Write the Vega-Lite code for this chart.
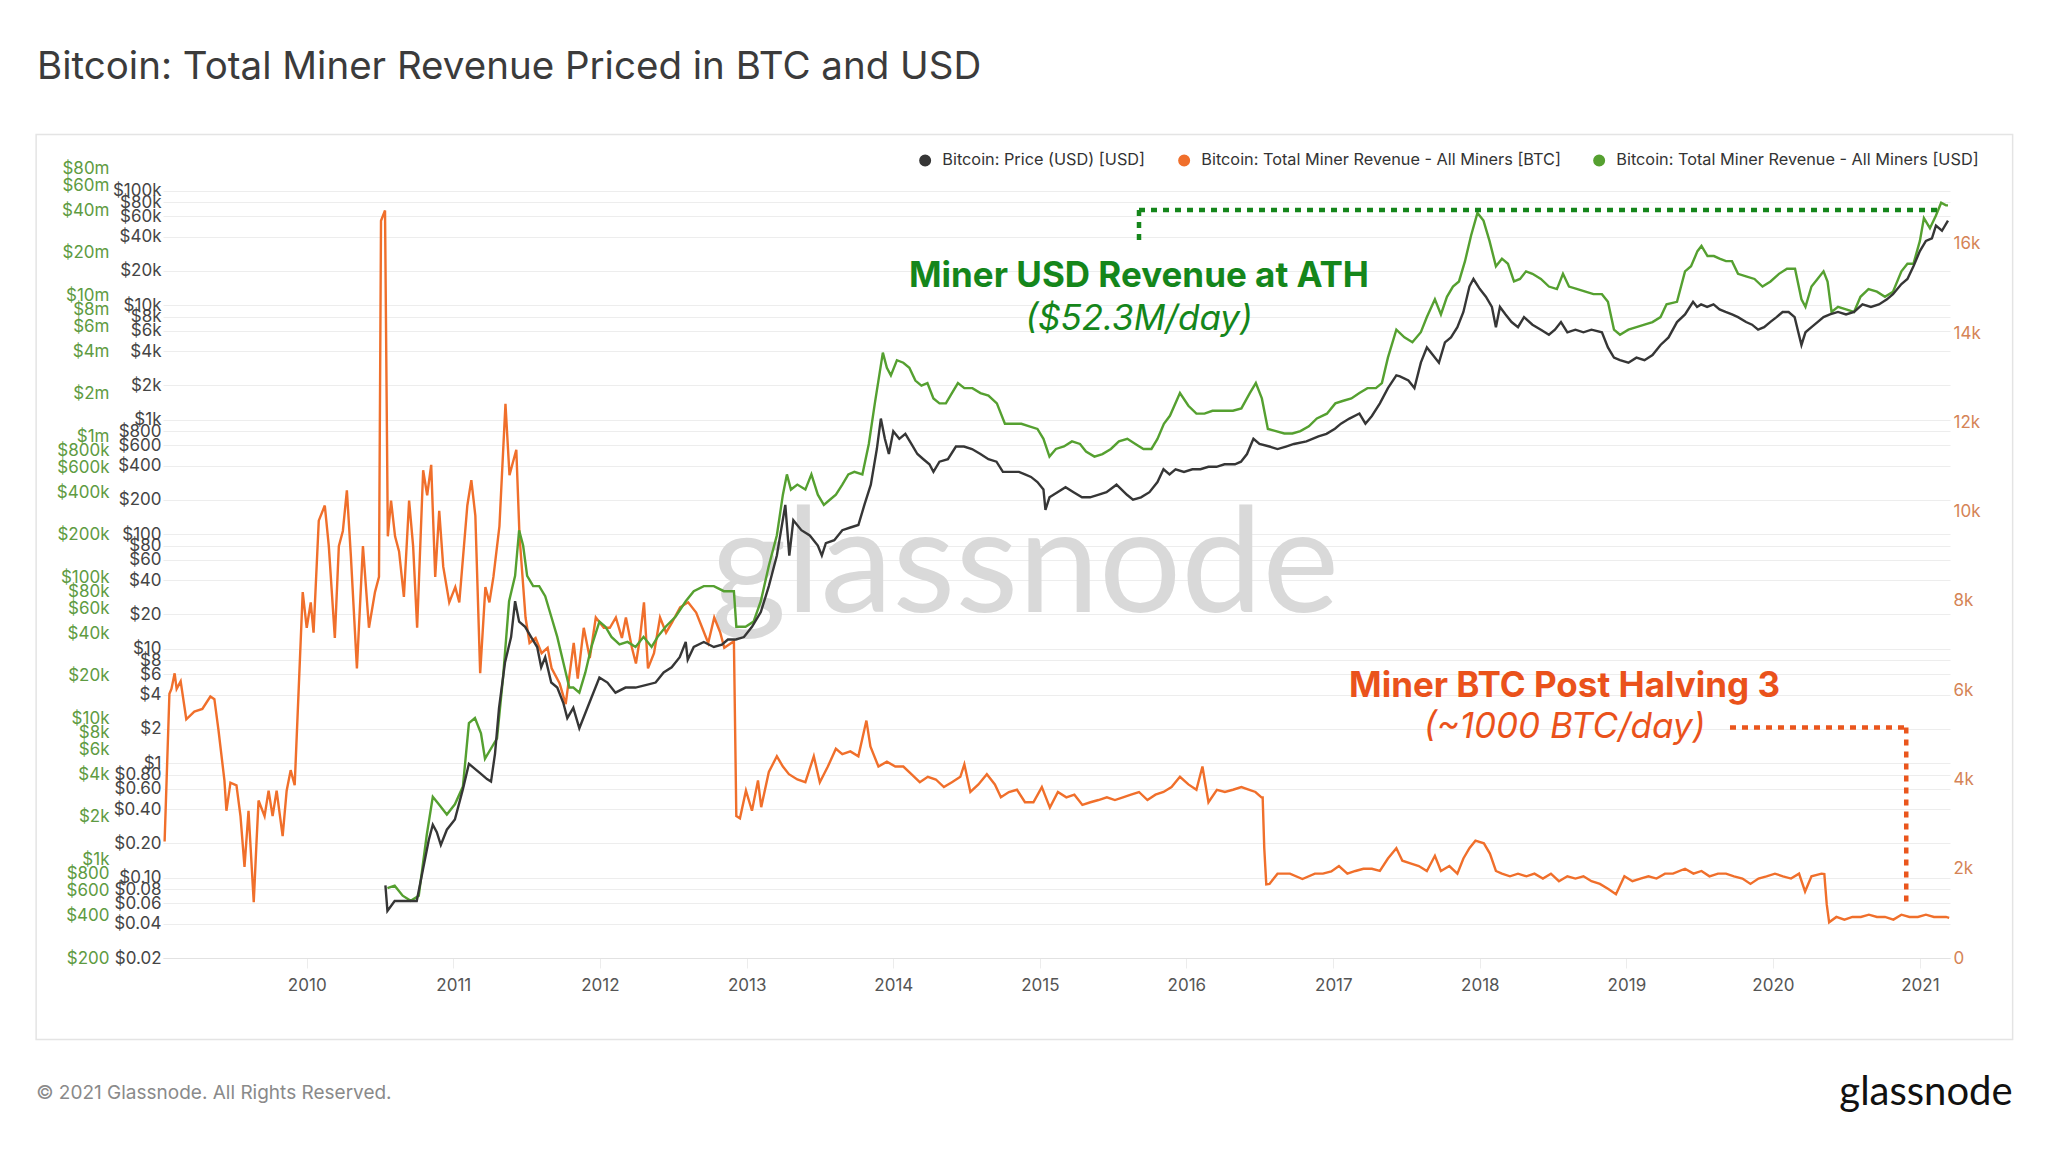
{
  "$schema": "https://vega.github.io/schema/vega-lite/v6.json",
  "width": 1787,
  "height": 795,
  "autosize": {"type": "none"},
  "padding": {"left": 163, "top": 163, "right": 98, "bottom": 192},
  "background": "white",
  "title": {
    "text": "Bitcoin: Total Miner Revenue Priced in BTC and USD",
    "anchor": "start",
    "frame": "group",
    "dx": -126,
    "offset": 16,
    "baseline": "alphabetic",
    "font": "Inter",
    "fontSize": 38.5,
    "fontWeight": "normal",
    "color": "#3b3b3b"
  },
  "config": {
    "view": {"stroke": null},
    "font": "Inter",
    "legend": {
      "orient": "none",
      "legendX": 754,
      "legendY": -11,
      "direction": "horizontal",
      "symbolType": "circle",
      "symbolSize": 110,
      "labelFont": "Inter",
      "labelFontSize": 16.3,
      "labelColor": "#333333",
      "labelLimit": 600,
      "columnPadding": 29,
      "labelOffset": 9
    }
  },
  "datasets": {
    "btc": [
      {"d": "2009-01-12", "v": 2610}, {"d": "2009-01-24", "v": 5920}, {"d": "2009-01-29", "v": 6030}, {"d": "2009-02-06", "v": 6380},
      {"d": "2009-02-11", "v": 6030}, {"d": "2009-02-21", "v": 6200}, {"d": "2009-03-07", "v": 5350}, {"d": "2009-03-27", "v": 5520},
      {"d": "2009-04-16", "v": 5580}, {"d": "2009-05-06", "v": 5860}, {"d": "2009-05-16", "v": 5800}, {"d": "2009-05-26", "v": 5120},
      {"d": "2009-06-10", "v": 3980}, {"d": "2009-06-15", "v": 3300}, {"d": "2009-06-25", "v": 3930}, {"d": "2009-07-10", "v": 3870},
      {"d": "2009-07-20", "v": 3180}, {"d": "2009-07-30", "v": 2040}, {"d": "2009-08-09", "v": 3300}, {"d": "2009-08-22", "v": 1250},
      {"d": "2009-08-29", "v": 2610}, {"d": "2009-09-03", "v": 3530}, {"d": "2009-09-18", "v": 3180}, {"d": "2009-09-28", "v": 3750},
      {"d": "2009-10-08", "v": 3180}, {"d": "2009-10-18", "v": 3750}, {"d": "2009-11-02", "v": 2730}, {"d": "2009-11-12", "v": 3750},
      {"d": "2009-11-22", "v": 4210}, {"d": "2009-12-02", "v": 3870}, {"d": "2009-12-12", "v": 6030}, {"d": "2009-12-22", "v": 8200},
      {"d": "2010-01-01", "v": 7400}, {"d": "2010-01-11", "v": 7970}, {"d": "2010-01-18", "v": 7290}, {"d": "2010-01-31", "v": 9800},
      {"d": "2010-02-15", "v": 10140}, {"d": "2010-02-25", "v": 9230}, {"d": "2010-03-12", "v": 7170}, {"d": "2010-03-22", "v": 9230},
      {"d": "2010-04-01", "v": 9570}, {"d": "2010-04-11", "v": 10480}, {"d": "2010-04-21", "v": 9000}, {"d": "2010-05-06", "v": 6490},
      {"d": "2010-05-21", "v": 9230}, {"d": "2010-06-05", "v": 7400}, {"d": "2010-06-20", "v": 8200}, {"d": "2010-06-30", "v": 8540},
      {"d": "2010-07-05", "v": 16520}, {"d": "2010-07-15", "v": 16750}, {"d": "2010-07-22", "v": 9450}, {"d": "2010-07-30", "v": 10250},
      {"d": "2010-08-09", "v": 9450}, {"d": "2010-08-19", "v": 9110}, {"d": "2010-08-31", "v": 8090}, {"d": "2010-09-13", "v": 10250},
      {"d": "2010-09-23", "v": 9230}, {"d": "2010-10-03", "v": 7400}, {"d": "2010-10-18", "v": 10930}, {"d": "2010-10-28", "v": 10370},
      {"d": "2010-11-07", "v": 11050}, {"d": "2010-11-17", "v": 8540}, {"d": "2010-11-27", "v": 10020}, {"d": "2010-12-07", "v": 8770},
      {"d": "2010-12-22", "v": 7970}, {"d": "2011-01-06", "v": 8310}, {"d": "2011-01-16", "v": 7970}, {"d": "2011-02-05", "v": 10140},
      {"d": "2011-02-15", "v": 10710}, {"d": "2011-02-25", "v": 9910}, {"d": "2011-03-09", "v": 6380}, {"d": "2011-03-22", "v": 8310},
      {"d": "2011-04-01", "v": 7970}, {"d": "2011-04-11", "v": 8540}, {"d": "2011-04-26", "v": 9680}, {"d": "2011-05-11", "v": 12420},
      {"d": "2011-05-21", "v": 10820}, {"d": "2011-06-07", "v": 11390}, {"d": "2011-06-15", "v": 9450}, {"d": "2011-06-30", "v": 7630},
      {"d": "2011-07-10", "v": 7060}, {"d": "2011-07-25", "v": 7170}, {"d": "2011-08-09", "v": 6830}, {"d": "2011-08-24", "v": 6950},
      {"d": "2011-09-03", "v": 6490}, {"d": "2011-09-23", "v": 6150}, {"d": "2011-10-08", "v": 5690}, {"d": "2011-10-18", "v": 6380},
      {"d": "2011-10-28", "v": 7060}, {"d": "2011-11-07", "v": 6260}, {"d": "2011-11-22", "v": 7400}, {"d": "2011-12-07", "v": 6720},
      {"d": "2011-12-22", "v": 7630}, {"d": "2012-01-11", "v": 7400}, {"d": "2012-01-26", "v": 7400}, {"d": "2012-02-10", "v": 7630},
      {"d": "2012-02-25", "v": 7170}, {"d": "2012-03-06", "v": 7630}, {"d": "2012-03-21", "v": 6950}, {"d": "2012-03-31", "v": 6600},
      {"d": "2012-04-10", "v": 7170}, {"d": "2012-04-20", "v": 7970}, {"d": "2012-04-30", "v": 6490}, {"d": "2012-05-15", "v": 6830},
      {"d": "2012-05-30", "v": 7630}, {"d": "2012-06-14", "v": 7290}, {"d": "2012-06-29", "v": 7520}, {"d": "2012-07-19", "v": 7860},
      {"d": "2012-08-08", "v": 7970}, {"d": "2012-08-28", "v": 7740}, {"d": "2012-09-12", "v": 7400}, {"d": "2012-09-27", "v": 7060},
      {"d": "2012-10-12", "v": 7630}, {"d": "2012-10-27", "v": 7290}, {"d": "2012-11-06", "v": 6950}, {"d": "2012-11-30", "v": 7100},
      {"d": "2012-12-06", "v": 3180}, {"d": "2012-12-15", "v": 3130}, {"d": "2012-12-30", "v": 3750}, {"d": "2013-01-14", "v": 3300},
      {"d": "2013-01-29", "v": 3980}, {"d": "2013-02-06", "v": 3380}, {"d": "2013-02-25", "v": 4170}, {"d": "2013-03-17", "v": 4520},
      {"d": "2013-04-01", "v": 4290}, {"d": "2013-04-16", "v": 4120}, {"d": "2013-05-07", "v": 4000}, {"d": "2013-05-27", "v": 3940},
      {"d": "2013-06-17", "v": 4520}, {"d": "2013-07-02", "v": 3940}, {"d": "2013-07-22", "v": 4290}, {"d": "2013-08-11", "v": 4690},
      {"d": "2013-08-27", "v": 4570}, {"d": "2013-09-16", "v": 4630}, {"d": "2013-10-06", "v": 4520}, {"d": "2013-10-26", "v": 5320},
      {"d": "2013-11-05", "v": 4740}, {"d": "2013-11-25", "v": 4290}, {"d": "2013-12-16", "v": 4400}, {"d": "2014-01-06", "v": 4290},
      {"d": "2014-01-26", "v": 4290}, {"d": "2014-02-15", "v": 4120}, {"d": "2014-03-08", "v": 3940}, {"d": "2014-03-28", "v": 4060},
      {"d": "2014-04-17", "v": 4000}, {"d": "2014-05-07", "v": 3830}, {"d": "2014-05-27", "v": 3940}, {"d": "2014-06-17", "v": 4060},
      {"d": "2014-06-27", "v": 4340}, {"d": "2014-07-12", "v": 3720}, {"d": "2014-08-01", "v": 3890}, {"d": "2014-08-22", "v": 4120},
      {"d": "2014-09-11", "v": 3890}, {"d": "2014-09-26", "v": 3600}, {"d": "2014-10-16", "v": 3720}, {"d": "2014-11-05", "v": 3770},
      {"d": "2014-11-25", "v": 3490}, {"d": "2014-12-16", "v": 3490}, {"d": "2015-01-06", "v": 3830}, {"d": "2015-01-26", "v": 3370},
      {"d": "2015-02-15", "v": 3720}, {"d": "2015-03-08", "v": 3600}, {"d": "2015-03-28", "v": 3660}, {"d": "2015-04-17", "v": 3430},
      {"d": "2015-05-07", "v": 3490}, {"d": "2015-05-27", "v": 3540}, {"d": "2015-06-17", "v": 3600}, {"d": "2015-07-07", "v": 3540},
      {"d": "2015-07-27", "v": 3600}, {"d": "2015-08-16", "v": 3660}, {"d": "2015-09-05", "v": 3720}, {"d": "2015-09-26", "v": 3540},
      {"d": "2015-10-16", "v": 3660}, {"d": "2015-11-05", "v": 3720}, {"d": "2015-11-25", "v": 3830}, {"d": "2015-12-16", "v": 4060},
      {"d": "2016-01-06", "v": 3890}, {"d": "2016-01-26", "v": 3770}, {"d": "2016-02-10", "v": 4290}, {"d": "2016-02-25", "v": 3490},
      {"d": "2016-03-17", "v": 3770}, {"d": "2016-04-06", "v": 3720}, {"d": "2016-04-26", "v": 3770}, {"d": "2016-05-17", "v": 3830},
      {"d": "2016-06-06", "v": 3770}, {"d": "2016-06-21", "v": 3720}, {"d": "2016-07-06", "v": 3600}, {"d": "2016-07-09", "v": 3600},
      {"d": "2016-07-13", "v": 2460}, {"d": "2016-07-18", "v": 1650}, {"d": "2016-07-26", "v": 1660}, {"d": "2016-08-15", "v": 1890},
      {"d": "2016-09-15", "v": 1890}, {"d": "2016-10-16", "v": 1770}, {"d": "2016-11-16", "v": 1890}, {"d": "2016-12-06", "v": 1890},
      {"d": "2016-12-27", "v": 1940}, {"d": "2017-01-15", "v": 2060}, {"d": "2017-02-05", "v": 1890}, {"d": "2017-02-25", "v": 1950},
      {"d": "2017-03-17", "v": 2000}, {"d": "2017-04-07", "v": 2000}, {"d": "2017-04-27", "v": 1950}, {"d": "2017-05-17", "v": 2230},
      {"d": "2017-06-07", "v": 2460}, {"d": "2017-06-22", "v": 2180}, {"d": "2017-07-12", "v": 2120}, {"d": "2017-08-02", "v": 2060},
      {"d": "2017-08-22", "v": 1950}, {"d": "2017-09-11", "v": 2290}, {"d": "2017-09-26", "v": 1950}, {"d": "2017-10-17", "v": 2060},
      {"d": "2017-11-06", "v": 1890}, {"d": "2017-11-21", "v": 2230}, {"d": "2017-12-06", "v": 2460}, {"d": "2017-12-21", "v": 2630},
      {"d": "2018-01-11", "v": 2570}, {"d": "2018-01-26", "v": 2340}, {"d": "2018-02-10", "v": 1950}, {"d": "2018-02-25", "v": 1890},
      {"d": "2018-03-17", "v": 1830}, {"d": "2018-04-06", "v": 1890}, {"d": "2018-04-27", "v": 1830}, {"d": "2018-05-17", "v": 1890},
      {"d": "2018-06-07", "v": 1780}, {"d": "2018-06-27", "v": 1890}, {"d": "2018-07-17", "v": 1720}, {"d": "2018-08-07", "v": 1830},
      {"d": "2018-08-27", "v": 1780}, {"d": "2018-09-16", "v": 1830}, {"d": "2018-10-06", "v": 1720}, {"d": "2018-10-27", "v": 1660},
      {"d": "2018-11-16", "v": 1550}, {"d": "2018-12-06", "v": 1430}, {"d": "2018-12-27", "v": 1830}, {"d": "2019-01-16", "v": 1720},
      {"d": "2019-02-05", "v": 1780}, {"d": "2019-02-25", "v": 1830}, {"d": "2019-03-17", "v": 1780}, {"d": "2019-04-07", "v": 1890},
      {"d": "2019-04-27", "v": 1890}, {"d": "2019-05-27", "v": 2000}, {"d": "2019-06-17", "v": 1890}, {"d": "2019-07-07", "v": 1950},
      {"d": "2019-07-27", "v": 1830}, {"d": "2019-08-17", "v": 1890}, {"d": "2019-09-06", "v": 1890}, {"d": "2019-09-26", "v": 1830},
      {"d": "2019-10-17", "v": 1780}, {"d": "2019-11-06", "v": 1660}, {"d": "2019-11-26", "v": 1780}, {"d": "2019-12-16", "v": 1830},
      {"d": "2020-01-06", "v": 1890}, {"d": "2020-01-26", "v": 1830}, {"d": "2020-02-15", "v": 1780}, {"d": "2020-03-06", "v": 1890},
      {"d": "2020-03-21", "v": 1490}, {"d": "2020-04-06", "v": 1830}, {"d": "2020-05-01", "v": 1890}, {"d": "2020-05-08", "v": 1880},
      {"d": "2020-05-14", "v": 1200}, {"d": "2020-05-20", "v": 800}, {"d": "2020-06-07", "v": 920}, {"d": "2020-06-27", "v": 860},
      {"d": "2020-07-17", "v": 920}, {"d": "2020-08-07", "v": 920}, {"d": "2020-08-27", "v": 970}, {"d": "2020-09-16", "v": 920},
      {"d": "2020-10-06", "v": 920}, {"d": "2020-10-27", "v": 860}, {"d": "2020-11-16", "v": 970}, {"d": "2020-12-06", "v": 920},
      {"d": "2020-12-27", "v": 920}, {"d": "2021-01-16", "v": 970}, {"d": "2021-02-05", "v": 920}, {"d": "2021-03-07", "v": 920},
      {"d": "2021-03-15", "v": 900}
    ],
    "price": [
      {"d": "2010-07-16", "v": 0.086}, {"d": "2010-07-21", "v": 0.0515}, {"d": "2010-08-08", "v": 0.063}, {"d": "2010-08-28", "v": 0.063},
      {"d": "2010-09-17", "v": 0.063}, {"d": "2010-10-02", "v": 0.063}, {"d": "2010-10-17", "v": 0.116}, {"d": "2010-11-01", "v": 0.215},
      {"d": "2010-11-11", "v": 0.292}, {"d": "2010-11-21", "v": 0.251}, {"d": "2010-12-01", "v": 0.194}, {"d": "2010-12-16", "v": 0.264},
      {"d": "2011-01-05", "v": 0.324}, {"d": "2011-01-25", "v": 0.597}, {"d": "2011-02-09", "v": 0.993}, {"d": "2011-02-24", "v": 0.898},
      {"d": "2011-03-11", "v": 0.811}, {"d": "2011-03-26", "v": 0.731}, {"d": "2011-04-05", "v": 0.695}, {"d": "2011-04-15", "v": 1.22},
      {"d": "2011-04-25", "v": 3.06}, {"d": "2011-05-10", "v": 7.66}, {"d": "2011-05-25", "v": 12.7}, {"d": "2011-06-04", "v": 26.1},
      {"d": "2011-06-14", "v": 17.3}, {"d": "2011-06-29", "v": 15.6}, {"d": "2011-07-14", "v": 12.7}, {"d": "2011-07-29", "v": 10.4},
      {"d": "2011-08-08", "v": 6.92}, {"d": "2011-08-18", "v": 8.48}, {"d": "2011-09-02", "v": 5.09}, {"d": "2011-09-17", "v": 4.6},
      {"d": "2011-10-02", "v": 3.39}, {"d": "2011-10-12", "v": 2.49}, {"d": "2011-10-27", "v": 3.06}, {"d": "2011-11-11", "v": 2.03},
      {"d": "2011-11-26", "v": 2.76}, {"d": "2011-12-11", "v": 3.75}, {"d": "2011-12-31", "v": 5.64}, {"d": "2012-01-20", "v": 5.09},
      {"d": "2012-02-09", "v": 4.15}, {"d": "2012-03-05", "v": 4.6}, {"d": "2012-03-30", "v": 4.6}, {"d": "2012-04-24", "v": 4.83},
      {"d": "2012-05-19", "v": 5.09}, {"d": "2012-06-08", "v": 6.24}, {"d": "2012-06-28", "v": 6.92}, {"d": "2012-07-18", "v": 8.48},
      {"d": "2012-08-02", "v": 11.5}, {"d": "2012-08-07", "v": 8.06}, {"d": "2012-08-22", "v": 10.4}, {"d": "2012-09-16", "v": 11.5},
      {"d": "2012-10-11", "v": 10.4}, {"d": "2012-10-31", "v": 10.9}, {"d": "2012-11-15", "v": 12.1}, {"d": "2012-12-05", "v": 12.1},
      {"d": "2012-12-25", "v": 12.7}, {"d": "2013-01-14", "v": 15.6}, {"d": "2013-02-05", "v": 21}, {"d": "2013-02-25", "v": 35.4},
      {"d": "2013-03-17", "v": 65.4}, {"d": "2013-04-07", "v": 181}, {"d": "2013-04-17", "v": 65.4}, {"d": "2013-04-27", "v": 133},
      {"d": "2013-05-17", "v": 109}, {"d": "2013-06-07", "v": 98}, {"d": "2013-06-27", "v": 80}, {"d": "2013-07-07", "v": 65.4},
      {"d": "2013-07-17", "v": 84}, {"d": "2013-08-07", "v": 89}, {"d": "2013-08-27", "v": 109}, {"d": "2013-09-16", "v": 115},
      {"d": "2013-10-06", "v": 121}, {"d": "2013-10-21", "v": 181}, {"d": "2013-11-06", "v": 272}, {"d": "2013-11-21", "v": 557},
      {"d": "2013-12-01", "v": 1028}, {"d": "2013-12-11", "v": 684}, {"d": "2013-12-21", "v": 504}, {"d": "2014-01-01", "v": 796},
      {"d": "2014-01-16", "v": 684}, {"d": "2014-01-31", "v": 757}, {"d": "2014-02-15", "v": 617}, {"d": "2014-03-02", "v": 504},
      {"d": "2014-03-17", "v": 454}, {"d": "2014-04-01", "v": 410}, {"d": "2014-04-11", "v": 352}, {"d": "2014-04-26", "v": 432},
      {"d": "2014-05-17", "v": 454}, {"d": "2014-06-06", "v": 586}, {"d": "2014-06-26", "v": 586}, {"d": "2014-07-16", "v": 557},
      {"d": "2014-08-06", "v": 504}, {"d": "2014-08-26", "v": 454}, {"d": "2014-09-15", "v": 432}, {"d": "2014-10-01", "v": 352},
      {"d": "2014-10-21", "v": 352}, {"d": "2014-11-10", "v": 352}, {"d": "2014-11-25", "v": 335}, {"d": "2014-12-10", "v": 318},
      {"d": "2014-12-26", "v": 287}, {"d": "2015-01-10", "v": 247}, {"d": "2015-01-15", "v": 164}, {"d": "2015-01-25", "v": 211},
      {"d": "2015-02-14", "v": 234}, {"d": "2015-03-06", "v": 259}, {"d": "2015-03-26", "v": 234}, {"d": "2015-04-16", "v": 211},
      {"d": "2015-05-06", "v": 211}, {"d": "2015-05-26", "v": 222}, {"d": "2015-06-16", "v": 234}, {"d": "2015-07-11", "v": 272},
      {"d": "2015-08-06", "v": 222}, {"d": "2015-08-21", "v": 201}, {"d": "2015-09-10", "v": 211}, {"d": "2015-10-01", "v": 234},
      {"d": "2015-10-21", "v": 287}, {"d": "2015-11-05", "v": 371}, {"d": "2015-11-20", "v": 335}, {"d": "2015-12-05", "v": 371},
      {"d": "2015-12-26", "v": 352}, {"d": "2016-01-16", "v": 371}, {"d": "2016-02-05", "v": 371}, {"d": "2016-02-25", "v": 390},
      {"d": "2016-03-16", "v": 390}, {"d": "2016-04-05", "v": 410}, {"d": "2016-05-01", "v": 410}, {"d": "2016-05-16", "v": 432},
      {"d": "2016-05-31", "v": 504}, {"d": "2016-06-16", "v": 684}, {"d": "2016-07-01", "v": 617}, {"d": "2016-07-26", "v": 586},
      {"d": "2016-08-15", "v": 557}, {"d": "2016-09-05", "v": 586}, {"d": "2016-09-25", "v": 617}, {"d": "2016-10-26", "v": 650},
      {"d": "2016-11-25", "v": 720}, {"d": "2016-12-15", "v": 757}, {"d": "2017-01-05", "v": 839}, {"d": "2017-01-20", "v": 928},
      {"d": "2017-02-10", "v": 1028}, {"d": "2017-03-07", "v": 1138}, {"d": "2017-03-22", "v": 928}, {"d": "2017-04-07", "v": 1084},
      {"d": "2017-04-27", "v": 1396}, {"d": "2017-05-17", "v": 1898}, {"d": "2017-06-07", "v": 2450}, {"d": "2017-06-16", "v": 2400},
      {"d": "2017-07-07", "v": 2212}, {"d": "2017-07-22", "v": 1898}, {"d": "2017-08-07", "v": 3164}, {"d": "2017-08-22", "v": 4296},
      {"d": "2017-09-06", "v": 3684}, {"d": "2017-09-21", "v": 3164}, {"d": "2017-10-06", "v": 4756}, {"d": "2017-10-21", "v": 5260},
      {"d": "2017-11-06", "v": 6456}, {"d": "2017-11-21", "v": 8770}, {"d": "2017-12-06", "v": 14620}, {"d": "2017-12-16", "v": 17020},
      {"d": "2018-01-01", "v": 13900}, {"d": "2018-01-16", "v": 11910}, {"d": "2018-01-31", "v": 9706}, {"d": "2018-02-10", "v": 6456},
      {"d": "2018-02-20", "v": 9706}, {"d": "2018-03-06", "v": 8340}, {"d": "2018-03-21", "v": 7160}, {"d": "2018-04-06", "v": 6456},
      {"d": "2018-04-21", "v": 7910}, {"d": "2018-05-12", "v": 6790}, {"d": "2018-06-02", "v": 6140}, {"d": "2018-06-22", "v": 5546},
      {"d": "2018-07-07", "v": 6140}, {"d": "2018-07-22", "v": 7160}, {"d": "2018-08-07", "v": 5830}, {"d": "2018-08-27", "v": 6140},
      {"d": "2018-09-16", "v": 5830}, {"d": "2018-10-06", "v": 6140}, {"d": "2018-11-01", "v": 5830}, {"d": "2018-11-16", "v": 4296},
      {"d": "2018-12-01", "v": 3500}, {"d": "2018-12-16", "v": 3326}, {"d": "2019-01-06", "v": 3164}, {"d": "2019-01-26", "v": 3500},
      {"d": "2019-02-15", "v": 3326}, {"d": "2019-03-07", "v": 3684}, {"d": "2019-03-27", "v": 4516}, {"d": "2019-04-16", "v": 5260},
      {"d": "2019-05-07", "v": 7160}, {"d": "2019-05-27", "v": 8340}, {"d": "2019-06-16", "v": 10770}, {"d": "2019-06-26", "v": 9706},
      {"d": "2019-07-06", "v": 10210}, {"d": "2019-07-21", "v": 9706}, {"d": "2019-08-06", "v": 10210}, {"d": "2019-08-21", "v": 9242},
      {"d": "2019-09-05", "v": 8770}, {"d": "2019-09-21", "v": 8340}, {"d": "2019-10-06", "v": 7910}, {"d": "2019-10-26", "v": 7160},
      {"d": "2019-11-10", "v": 6790}, {"d": "2019-11-25", "v": 6140}, {"d": "2019-12-10", "v": 6456}, {"d": "2019-12-25", "v": 7160},
      {"d": "2020-01-10", "v": 7910}, {"d": "2020-01-25", "v": 8770}, {"d": "2020-02-09", "v": 8770}, {"d": "2020-02-24", "v": 7910},
      {"d": "2020-03-12", "v": 4516}, {"d": "2020-03-22", "v": 5830}, {"d": "2020-04-06", "v": 6456}, {"d": "2020-04-21", "v": 7160},
      {"d": "2020-05-06", "v": 7910}, {"d": "2020-05-22", "v": 8340}, {"d": "2020-06-11", "v": 8770}, {"d": "2020-07-01", "v": 8340},
      {"d": "2020-07-21", "v": 8770}, {"d": "2020-08-11", "v": 10210}, {"d": "2020-09-01", "v": 9706}, {"d": "2020-09-21", "v": 10210},
      {"d": "2020-10-11", "v": 11300}, {"d": "2020-10-26", "v": 12540}, {"d": "2020-11-16", "v": 15380}, {"d": "2020-12-01", "v": 17020},
      {"d": "2020-12-16", "v": 21980}, {"d": "2021-01-01", "v": 29860}, {"d": "2021-01-16", "v": 36640}, {"d": "2021-01-31", "v": 38560},
      {"d": "2021-02-10", "v": 49760}, {"d": "2021-02-25", "v": 44880}, {"d": "2021-03-12", "v": 55080}
    ],
    "usd": [
      {"d": "2010-07-21", "v": 626}, {"d": "2010-08-08", "v": 652}, {"d": "2010-08-28", "v": 553}, {"d": "2010-09-17", "v": 509},
      {"d": "2010-10-07", "v": 553}, {"d": "2010-10-27", "v": 1496}, {"d": "2010-11-11", "v": 2782}, {"d": "2010-11-26", "v": 2458},
      {"d": "2010-12-16", "v": 2084}, {"d": "2011-01-05", "v": 2458}, {"d": "2011-01-25", "v": 3286}, {"d": "2011-02-09", "v": 9270},
      {"d": "2011-02-24", "v": 10060}, {"d": "2011-03-11", "v": 7848}, {"d": "2011-03-21", "v": 5184}, {"d": "2011-04-05", "v": 6120},
      {"d": "2011-04-20", "v": 7220}, {"d": "2011-05-05", "v": 19520}, {"d": "2011-05-20", "v": 67740}, {"d": "2011-06-04", "v": 102600},
      {"d": "2011-06-14", "v": 216000}, {"d": "2011-06-24", "v": 168500}, {"d": "2011-07-04", "v": 102600}, {"d": "2011-07-19", "v": 86800},
      {"d": "2011-08-03", "v": 86800}, {"d": "2011-08-18", "v": 73600}, {"d": "2011-09-02", "v": 52840}, {"d": "2011-09-17", "v": 37880},
      {"d": "2011-10-02", "v": 25060}, {"d": "2011-10-17", "v": 16560}, {"d": "2011-10-27", "v": 16560}, {"d": "2011-11-11", "v": 15220},
      {"d": "2011-11-26", "v": 21200}, {"d": "2011-12-11", "v": 32120}, {"d": "2011-12-31", "v": 48620}, {"d": "2012-01-15", "v": 44740},
      {"d": "2012-01-30", "v": 37880}, {"d": "2012-02-19", "v": 33460}, {"d": "2012-03-10", "v": 34900}, {"d": "2012-03-30", "v": 32120},
      {"d": "2012-04-19", "v": 37880}, {"d": "2012-05-09", "v": 32120}, {"d": "2012-05-24", "v": 37880}, {"d": "2012-06-13", "v": 44740},
      {"d": "2012-07-08", "v": 52840}, {"d": "2012-08-02", "v": 67740}, {"d": "2012-08-22", "v": 79880}, {"d": "2012-09-16", "v": 86800},
      {"d": "2012-10-11", "v": 86800}, {"d": "2012-11-05", "v": 79880}, {"d": "2012-11-30", "v": 79880}, {"d": "2012-12-06", "v": 44740},
      {"d": "2012-12-29", "v": 44740}, {"d": "2013-01-18", "v": 48620}, {"d": "2013-02-05", "v": 67740}, {"d": "2013-02-25", "v": 120900},
      {"d": "2013-03-17", "v": 199000}, {"d": "2013-04-01", "v": 386200}, {"d": "2013-04-11", "v": 538000}, {"d": "2013-04-21", "v": 419800},
      {"d": "2013-05-07", "v": 455400}, {"d": "2013-05-27", "v": 419800}, {"d": "2013-06-11", "v": 538000}, {"d": "2013-06-27", "v": 386200},
      {"d": "2013-07-12", "v": 327000}, {"d": "2013-07-27", "v": 355400}, {"d": "2013-08-11", "v": 386200}, {"d": "2013-08-27", "v": 455400},
      {"d": "2013-09-11", "v": 538000}, {"d": "2013-09-26", "v": 560600}, {"d": "2013-10-16", "v": 538000}, {"d": "2013-11-01", "v": 884000},
      {"d": "2013-11-16", "v": 1715000}, {"d": "2013-12-06", "v": 3930000}, {"d": "2013-12-16", "v": 3070000}, {"d": "2013-12-26", "v": 2710000},
      {"d": "2014-01-10", "v": 3470000}, {"d": "2014-01-26", "v": 3330000}, {"d": "2014-02-10", "v": 3070000}, {"d": "2014-02-25", "v": 2490000},
      {"d": "2014-03-12", "v": 2290000}, {"d": "2014-03-27", "v": 2390000}, {"d": "2014-04-11", "v": 1860000}, {"d": "2014-04-26", "v": 1715000},
      {"d": "2014-05-12", "v": 1715000}, {"d": "2014-05-27", "v": 2030000}, {"d": "2014-06-11", "v": 2390000}, {"d": "2014-06-27", "v": 2200000},
      {"d": "2014-07-17", "v": 2200000}, {"d": "2014-08-06", "v": 2030000}, {"d": "2014-08-26", "v": 1950000}, {"d": "2014-09-16", "v": 1715000},
      {"d": "2014-10-06", "v": 1230000}, {"d": "2014-10-26", "v": 1230000}, {"d": "2014-11-16", "v": 1230000}, {"d": "2014-12-06", "v": 1180000},
      {"d": "2014-12-26", "v": 1130000}, {"d": "2015-01-10", "v": 961000}, {"d": "2015-01-25", "v": 719000}, {"d": "2015-02-10", "v": 815000},
      {"d": "2015-03-02", "v": 849000}, {"d": "2015-03-22", "v": 922000}, {"d": "2015-04-11", "v": 884000}, {"d": "2015-04-26", "v": 781000},
      {"d": "2015-05-17", "v": 719000}, {"d": "2015-06-06", "v": 750000}, {"d": "2015-06-27", "v": 815000}, {"d": "2015-07-17", "v": 922000},
      {"d": "2015-08-07", "v": 961000}, {"d": "2015-08-27", "v": 884000}, {"d": "2015-09-16", "v": 815000}, {"d": "2015-10-06", "v": 815000},
      {"d": "2015-10-21", "v": 961000}, {"d": "2015-11-06", "v": 1230000}, {"d": "2015-11-21", "v": 1400000}, {"d": "2015-12-16", "v": 2030000},
      {"d": "2016-01-06", "v": 1650000}, {"d": "2016-01-26", "v": 1450000}, {"d": "2016-02-15", "v": 1450000}, {"d": "2016-03-06", "v": 1520000},
      {"d": "2016-04-06", "v": 1520000}, {"d": "2016-04-26", "v": 1520000}, {"d": "2016-05-17", "v": 1580000}, {"d": "2016-06-07", "v": 2030000},
      {"d": "2016-06-22", "v": 2390000}, {"d": "2016-07-07", "v": 1860000}, {"d": "2016-07-22", "v": 1130000}, {"d": "2016-08-11", "v": 1090000},
      {"d": "2016-09-01", "v": 1050000}, {"d": "2016-09-21", "v": 1050000}, {"d": "2016-10-11", "v": 1090000}, {"d": "2016-11-01", "v": 1180000},
      {"d": "2016-11-21", "v": 1340000}, {"d": "2016-12-16", "v": 1450000}, {"d": "2017-01-06", "v": 1715000}, {"d": "2017-01-26", "v": 1790000},
      {"d": "2017-02-15", "v": 1860000}, {"d": "2017-03-07", "v": 2030000}, {"d": "2017-03-27", "v": 2200000}, {"d": "2017-04-17", "v": 2200000},
      {"d": "2017-05-02", "v": 2390000}, {"d": "2017-05-17", "v": 3620000}, {"d": "2017-06-07", "v": 5720000}, {"d": "2017-06-27", "v": 5040000},
      {"d": "2017-07-17", "v": 4650000}, {"d": "2017-08-07", "v": 5480000}, {"d": "2017-08-22", "v": 7020000}, {"d": "2017-09-11", "v": 9390000},
      {"d": "2017-09-26", "v": 7330000}, {"d": "2017-10-11", "v": 9780000}, {"d": "2017-10-26", "v": 11560000}, {"d": "2017-11-10", "v": 12560000},
      {"d": "2017-11-25", "v": 17490000}, {"d": "2017-12-10", "v": 26480000}, {"d": "2017-12-26", "v": 38440000}, {"d": "2018-01-10", "v": 33960000},
      {"d": "2018-01-25", "v": 24360000}, {"d": "2018-02-10", "v": 16100000}, {"d": "2018-02-25", "v": 18220000}, {"d": "2018-03-12", "v": 16770000},
      {"d": "2018-03-27", "v": 12560000}, {"d": "2018-04-11", "v": 13080000}, {"d": "2018-04-26", "v": 14810000}, {"d": "2018-05-12", "v": 14220000},
      {"d": "2018-06-02", "v": 13080000}, {"d": "2018-06-22", "v": 11560000}, {"d": "2018-07-12", "v": 11090000}, {"d": "2018-07-27", "v": 14220000},
      {"d": "2018-08-11", "v": 11560000}, {"d": "2018-09-01", "v": 11090000}, {"d": "2018-09-21", "v": 10630000}, {"d": "2018-10-11", "v": 10210000},
      {"d": "2018-11-01", "v": 10210000}, {"d": "2018-11-16", "v": 9010000}, {"d": "2018-12-01", "v": 5720000}, {"d": "2018-12-16", "v": 5260000},
      {"d": "2019-01-06", "v": 5720000}, {"d": "2019-01-26", "v": 5950000}, {"d": "2019-02-15", "v": 6200000}, {"d": "2019-03-07", "v": 6470000},
      {"d": "2019-03-27", "v": 7020000}, {"d": "2019-04-11", "v": 8640000}, {"d": "2019-05-07", "v": 9010000}, {"d": "2019-05-27", "v": 14810000},
      {"d": "2019-06-11", "v": 16100000}, {"d": "2019-06-27", "v": 20600000}, {"d": "2019-07-07", "v": 22420000}, {"d": "2019-07-22", "v": 19010000},
      {"d": "2019-08-07", "v": 19010000}, {"d": "2019-08-21", "v": 18220000}, {"d": "2019-09-06", "v": 17490000}, {"d": "2019-09-21", "v": 17490000},
      {"d": "2019-10-06", "v": 14220000}, {"d": "2019-10-26", "v": 13650000}, {"d": "2019-11-16", "v": 13080000}, {"d": "2019-12-06", "v": 11560000},
      {"d": "2019-12-26", "v": 12560000}, {"d": "2020-01-16", "v": 14220000}, {"d": "2020-02-05", "v": 15450000}, {"d": "2020-02-25", "v": 15450000},
      {"d": "2020-03-12", "v": 9390000}, {"d": "2020-03-22", "v": 8290000}, {"d": "2020-04-06", "v": 11560000}, {"d": "2020-04-21", "v": 13080000},
      {"d": "2020-05-06", "v": 14810000}, {"d": "2020-05-16", "v": 12560000}, {"d": "2020-05-26", "v": 7630000}, {"d": "2020-06-11", "v": 8290000},
      {"d": "2020-07-01", "v": 7960000}, {"d": "2020-07-21", "v": 7630000}, {"d": "2020-08-06", "v": 9780000}, {"d": "2020-08-26", "v": 11090000},
      {"d": "2020-09-16", "v": 10630000}, {"d": "2020-10-06", "v": 9780000}, {"d": "2020-10-26", "v": 10630000}, {"d": "2020-11-16", "v": 14810000},
      {"d": "2020-12-01", "v": 16770000}, {"d": "2020-12-16", "v": 16770000}, {"d": "2021-01-01", "v": 24360000}, {"d": "2021-01-11", "v": 35370000},
      {"d": "2021-01-26", "v": 29990000}, {"d": "2021-02-10", "v": 36900000}, {"d": "2021-02-23", "v": 45400000}, {"d": "2021-03-07", "v": 43500000},
      {"d": "2021-03-12", "v": 43500000}
    ]
  },
  "encoding": {
    "x": {
      "field": "d",
      "type": "temporal",
      "scale": {"domain": [{"year": 2009, "month": 1, "date": 8}, {"year": 2021, "month": 3, "date": 17}]},
      "axis": {
        "values": [
          {"year": 2010, "month": 1, "date": 1}, {"year": 2011, "month": 1, "date": 1}, {"year": 2012, "month": 1, "date": 1},
          {"year": 2013, "month": 1, "date": 1}, {"year": 2014, "month": 1, "date": 1}, {"year": 2015, "month": 1, "date": 1},
          {"year": 2016, "month": 1, "date": 1}, {"year": 2017, "month": 1, "date": 1}, {"year": 2018, "month": 1, "date": 1},
          {"year": 2019, "month": 1, "date": 1}, {"year": 2020, "month": 1, "date": 1}, {"year": 2021, "month": 1, "date": 1}
        ],
        "format": "%Y",
        "title": null,
        "grid": false,
        "domainColor": "#e2e2e2",
        "tickColor": "#ececec",
        "tickSize": 10,
        "labelPadding": 9,
        "labelFont": "Inter",
        "labelFontSize": 17,
        "labelColor": "#555555",
        "labelFlush": false,
        "labelOverlap": false
      }
    }
  },
  "layer": [
    {
      "data": {"values": [{"d": "2008-02-27", "d2": "2021-08-20", "v": -1829, "v2": 18454}]},
      "mark": {"type": "rect", "filled": false, "stroke": "#e4e4e4", "strokeWidth": 1.5, "clip": false},
      "encoding": {
        "x2": {"field": "d2"},
        "y": {"field": "v", "type": "quantitative", "scale": {"domain": [0, 17815], "nice": false, "zero": false}, "axis": null},
        "y2": {"field": "v2"}
      }
    },
    {
      "data": {"values": [{"d": "2014-11-25", "v": 8740, "t": "glassnode"}]},
      "mark": {"type": "text", "font": "Lato", "fontSize": 145, "color": "#d9d9d9", "align": "center", "baseline": "middle"},
      "encoding": {
        "y": {"field": "v", "type": "quantitative", "scale": {"domain": [0, 17815], "nice": false, "zero": false}, "axis": null},
        "text": {"field": "t"}
      }
    },
    {
      "data": {"name": "btc"},
      "mark": {"type": "line", "strokeWidth": 2.4, "interpolate": "linear"},
      "encoding": {
        "y": {
          "field": "v",
          "type": "quantitative",
          "scale": {"domain": [0, 17815], "nice": false, "zero": false},
          "axis": {
            "orient": "right",
            "values": [0, 2000, 4000, 6000, 8000, 10000, 12000, 14000, 16000],
            "labelExpr": "datum.value == 0 ? '0' : format(datum.value / 1000, 'd') + 'k'",
            "title": null,
            "grid": false,
            "domain": false,
            "ticks": false,
            "tickSize": 0,
            "labelPadding": 3,
            "labelFont": "Inter",
            "labelFontSize": 17,
            "labelColor": "#d58456",
            "labelOverlap": false
          }
        },
        "color": {
          "datum": "Bitcoin: Total Miner Revenue - All Miners [BTC]",
          "type": "nominal",
          "scale": {
            "domain": ["Bitcoin: Price (USD) [USD]", "Bitcoin: Total Miner Revenue - All Miners [BTC]", "Bitcoin: Total Miner Revenue - All Miners [USD]"],
            "range": ["#363636", "#f06f2b", "#55a030"]
          },
          "legend": {
            "title": null,
            "encode": {"symbols": {"update": {"fill": {"scale": "color", "field": "value"}, "stroke": {"value": "transparent"}}}}
          }
        }
      }
    },
    {
      "data": {"name": "usd"},
      "mark": {"type": "line", "strokeWidth": 2.4, "interpolate": "linear"},
      "encoding": {
        "y": {
          "field": "v",
          "type": "quantitative",
          "scale": {"type": "log", "domain": [200, 86900000], "nice": false},
          "axis": {
            "orient": "left",
            "offset": 52,
            "values": [200, 400, 600, 800, 1000, 2000, 4000, 6000, 8000, 10000, 20000, 40000, 60000, 80000, 100000, 200000, 400000, 600000, 800000, 1000000, 2000000, 4000000, 6000000, 8000000, 10000000, 20000000, 40000000, 60000000, 80000000],
            "labelExpr": "datum.value < 1000 ? '$' + format(datum.value, 'd') : datum.value < 1000000 ? '$' + format(datum.value / 1000, 'd') + 'k' : '$' + format(datum.value / 1000000, 'd') + 'm'",
            "title": null,
            "grid": false,
            "domain": false,
            "ticks": false,
            "tickSize": 0,
            "labelPadding": 2,
            "labelFont": "Inter",
            "labelFontSize": 17,
            "labelColor": "#5e9b42",
            "labelOverlap": false
          }
        },
        "color": {
          "datum": "Bitcoin: Total Miner Revenue - All Miners [USD]",
          "type": "nominal",
          "scale": {
            "domain": ["Bitcoin: Price (USD) [USD]", "Bitcoin: Total Miner Revenue - All Miners [BTC]", "Bitcoin: Total Miner Revenue - All Miners [USD]"],
            "range": ["#363636", "#f06f2b", "#55a030"]
          }
        }
      }
    },
    {
      "data": {"name": "price"},
      "mark": {"type": "line", "strokeWidth": 2.4, "interpolate": "linear"},
      "encoding": {
        "y": {
          "field": "v",
          "type": "quantitative",
          "scale": {"type": "log", "domain": [0.02, 175400], "nice": false},
          "axis": {
            "orient": "left",
            "offset": 0,
            "values": [0.02, 0.04, 0.06, 0.08, 0.1, 0.2, 0.4, 0.6, 0.8, 1, 2, 4, 6, 8, 10, 20, 40, 60, 80, 100, 200, 400, 600, 800, 1000, 2000, 4000, 6000, 8000, 10000, 20000, 40000, 60000, 80000, 100000],
            "labelExpr": "datum.value < 1 ? '$' + format(datum.value, '.2f') : datum.value < 1000 ? '$' + format(datum.value, 'd') : '$' + format(datum.value / 1000, 'd') + 'k'",
            "title": null,
            "grid": true,
            "gridColor": "#ededed",
            "gridWidth": 1,
            "domain": false,
            "ticks": false,
            "tickSize": 0,
            "labelPadding": 2,
            "labelFont": "Inter",
            "labelFontSize": 17,
            "labelColor": "#454545",
            "labelOverlap": false
          }
        },
        "color": {
          "datum": "Bitcoin: Price (USD) [USD]",
          "type": "nominal",
          "scale": {
            "domain": ["Bitcoin: Price (USD) [USD]", "Bitcoin: Total Miner Revenue - All Miners [BTC]", "Bitcoin: Total Miner Revenue - All Miners [USD]"],
            "range": ["#363636", "#f06f2b", "#55a030"]
          }
        }
      }
    },
    {
      "data": {"values": [
        {"d": "2015-09-05", "d2": "2021-02-25", "v": 16762, "v2": 16762},
        {"d": "2015-09-05", "d2": "2015-09-05", "v": 16762, "v2": 16045}
      ]},
      "mark": {"type": "rule", "color": "#15861b", "strokeWidth": 4.5, "strokeDash": [6, 6], "strokeCap": "butt"},
      "encoding": {
        "x2": {"field": "d2"},
        "y": {"field": "v", "type": "quantitative", "scale": {"domain": [0, 17815], "nice": false, "zero": false}, "axis": null},
        "y2": {"field": "v2"}
      }
    },
    {
      "data": {"values": [
        {"d": "2019-09-16", "d2": "2020-11-28", "v": 5168, "v2": 5168},
        {"d": "2020-11-28", "d2": "2020-11-28", "v": 5168, "v2": 1160}
      ]},
      "mark": {"type": "rule", "color": "#ea561d", "strokeWidth": 4.5, "strokeDash": [6, 6], "strokeCap": "butt"},
      "encoding": {
        "x2": {"field": "d2"},
        "y": {"field": "v", "type": "quantitative", "scale": {"domain": [0, 17815], "nice": false, "zero": false}, "axis": null},
        "y2": {"field": "v2"}
      }
    },
    {
      "data": {"values": [{"d": "2015-09-05", "v": 15292, "t": "Miner USD Revenue at ATH"}]},
      "mark": {"type": "text", "font": "Inter", "fontSize": 35, "fontWeight": "bold", "color": "#15861b", "align": "center", "baseline": "middle"},
      "encoding": {
        "y": {"field": "v", "type": "quantitative", "scale": {"domain": [0, 17815], "nice": false, "zero": false}, "axis": null},
        "text": {"field": "t"}
      }
    },
    {
      "data": {"values": [{"d": "2015-09-05", "v": 14326, "t": "($52.3M/day)"}]},
      "mark": {"type": "text", "font": "Inter", "fontSize": 35, "fontStyle": "italic", "color": "#15861b", "align": "center", "baseline": "middle"},
      "encoding": {
        "y": {"field": "v", "type": "quantitative", "scale": {"domain": [0, 17815], "nice": false, "zero": false}, "axis": null},
        "text": {"field": "t"}
      }
    },
    {
      "data": {"values": [{"d": "2018-07-31", "v": 6104, "t": "Miner BTC Post Halving 3"}]},
      "mark": {"type": "text", "font": "Inter", "fontSize": 35, "fontWeight": "bold", "color": "#ea521b", "align": "center", "baseline": "middle"},
      "encoding": {
        "y": {"field": "v", "type": "quantitative", "scale": {"domain": [0, 17815], "nice": false, "zero": false}, "axis": null},
        "text": {"field": "t"}
      }
    },
    {
      "data": {"values": [{"d": "2018-07-31", "v": 5168, "t": "(~1000 BTC/day)"}]},
      "mark": {"type": "text", "font": "Inter", "fontSize": 35, "fontStyle": "italic", "color": "#ea521b", "align": "center", "baseline": "middle"},
      "encoding": {
        "y": {"field": "v", "type": "quantitative", "scale": {"domain": [0, 17815], "nice": false, "zero": false}, "axis": null},
        "text": {"field": "t"}
      }
    },
    {
      "data": {"values": [{"d": "2008-02-27", "v": -3025, "t": "© 2021 Glassnode. All Rights Reserved."}]},
      "mark": {"type": "text", "font": "Inter", "fontSize": 19, "color": "#8a8a8a", "align": "left", "baseline": "middle", "clip": false},
      "encoding": {
        "y": {"field": "v", "type": "quantitative", "scale": {"domain": [0, 17815], "nice": false, "zero": false}, "axis": null},
        "text": {"field": "t"}
      }
    },
    {
      "data": {"values": [{"d": "2021-08-20", "v": -3025, "t": "glassnode"}]},
      "mark": {"type": "text", "font": "Lato", "fontSize": 40, "color": "#111111", "align": "right", "baseline": "middle", "clip": false},
      "encoding": {
        "y": {"field": "v", "type": "quantitative", "scale": {"domain": [0, 17815], "nice": false, "zero": false}, "axis": null},
        "text": {"field": "t"}
      }
    }
  ],
  "resolve": {"scale": {"y": "independent"}, "axis": {"y": "independent"}}
}
